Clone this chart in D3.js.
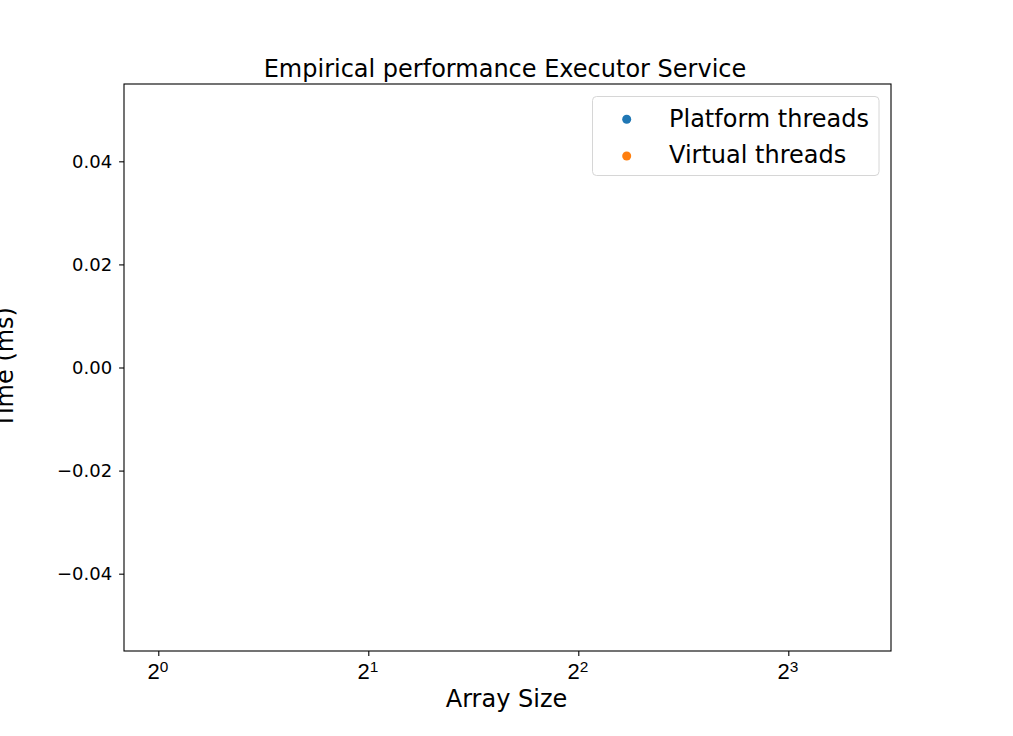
<!DOCTYPE html>
<html>
<head>
<meta charset="utf-8">
<script src="https://cdn.jsdelivr.net/npm/d3@7"></script>
<style>
  html, body { margin: 0; padding: 0; background: #fff; }
  svg { display: block; font-family: "DejaVu Sans", sans-serif; }
</style>
</head>
<body>
<svg id="chart" width="1013" height="736"></svg>
<script>
// ---- data (the reference chart contains no plotted points) ----
const arraySizes = [];
const platformTimes = [];
const virtualTimes = [];
const seriesNames = ["Platform threads", "Virtual threads"];
const seriesColors = ["#1f77b4", "#ff7f0e"];
const xTickExponents = [0, 1, 2, 3];
const yTickValues = [-0.04, -0.02, 0.00, 0.02, 0.04];
const xDomainExp = [-0.1633, 3.489];
const yDomain = [-0.055, 0.055];

const svg = d3.select("#chart");
const L = 124, R = 891, T = 84, B = 651;

const x = d3.scaleLog().base(2)
  .domain([Math.pow(2, xDomainExp[0]), Math.pow(2, xDomainExp[1])])
  .range([L, R]);
const y = d3.scaleLinear().domain(yDomain).range([B, T]);

// points (none in the reference)
const series = [platformTimes, virtualTimes];
series.forEach((vals, si) => {
  svg.append("g").selectAll("circle")
    .data(vals.map((v, i) => ({ x: arraySizes[i], y: v })))
    .join("circle")
    .attr("cx", d => x(d.x)).attr("cy", d => y(d.y))
    .attr("r", 4).attr("fill", seriesColors[si]);
});

// x axis
const xAxis = d3.axisBottom(x)
  .tickValues(xTickExponents.map(e => Math.pow(2, e)))
  .tickSize(4.9).tickPadding(4).tickFormat(() => "");
const gx = svg.append("g").attr("transform", `translate(0,${B})`).call(xAxis);
gx.select(".domain").remove();
gx.selectAll(".tick line").attr("stroke", "#000").attr("stroke-width", 1.1);
gx.selectAll(".tick").each(function(d) {
  const e = Math.round(Math.log2(d));
  const t = d3.select(this).append("text")
    .attr("x", -1).attr("y", 28).attr("fill", "#000").attr("text-anchor", "middle")
    .style("font-size", "22px");
  t.append("tspan").text("2");
  t.append("tspan").attr("dy", -7).style("font-size", "15.4px").text(String(e));
});

// y axis
const yAxis = d3.axisLeft(y).tickValues(yTickValues)
  .tickSize(4.9).tickPadding(7)
  .tickFormat(v => d3.format(".2f")(v).replace("-", "\u2212"));
const gy = svg.append("g").attr("transform", `translate(${L},0)`).call(yAxis);
gy.select(".domain").remove();
gy.selectAll(".tick line").attr("stroke", "#000").attr("stroke-width", 1.1);
gy.selectAll(".tick text").attr("fill", "#000").style("font-size", "18px")
  .attr("font-family", "DejaVu Sans");

// frame
svg.append("rect").attr("x", L).attr("y", T).attr("width", R - L).attr("height", B - T)
  .attr("fill", "none").attr("stroke", "#000").attr("stroke-width", 1.1);

// title & labels
svg.append("text").attr("x", 505).attr("y", 77).attr("text-anchor", "middle")
  .style("font-size", "24px").attr("fill", "#000").text("Empirical performance Executor Service");
svg.append("text").attr("x", 506.5).attr("y", 707).attr("text-anchor", "middle")
  .style("font-size", "24px").attr("fill", "#000").text("Array Size");
svg.append("text").attr("transform", `translate(12.5,${(T + B) / 2}) rotate(-90)`)
  .attr("text-anchor", "middle").style("font-size", "24px").attr("fill", "#000").text("Time (ms)");

// legend
const lg = svg.append("g");
lg.append("rect").attr("x", 592.5).attr("y", 96.5).attr("width", 286.5).attr("height", 79)
  .attr("rx", 4).attr("fill", "#fff").attr("fill-opacity", 0.8)
  .attr("stroke", "#d6d6d6").attr("stroke-width", 1);
seriesNames.forEach((name, i) => {
  const cy = 119.3 + i * 36.7;
  lg.append("circle").attr("cx", 626.7).attr("cy", cy).attr("r", 4.5).attr("fill", seriesColors[i]);
  lg.append("text").attr("x", 669).attr("y", cy + 7.3).style("font-size", "24px")
    .attr("fill", "#000").text(name);
});
</script>
</body>
</html>
